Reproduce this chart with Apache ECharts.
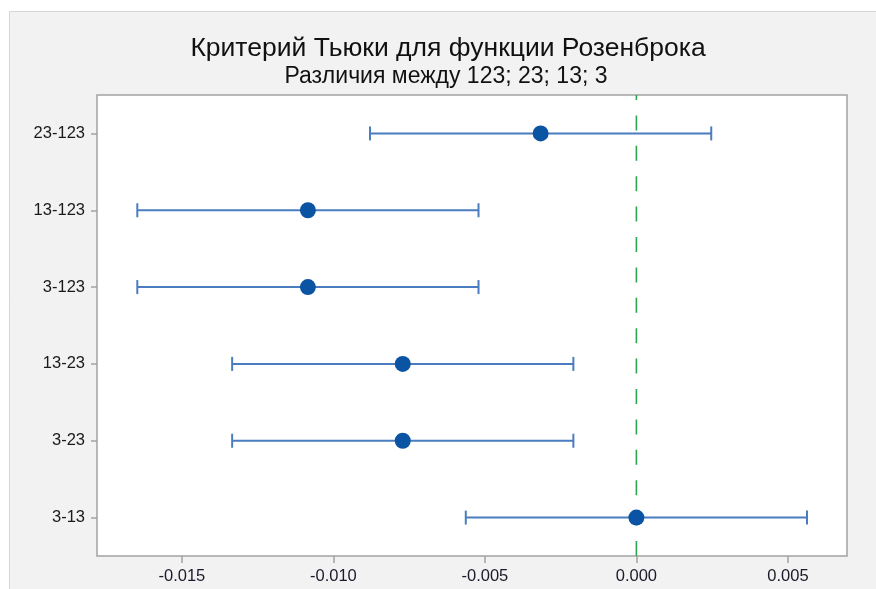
<!DOCTYPE html>
<html>
<head>
<meta charset="utf-8">
<style>
  html, body { margin: 0; padding: 0; background: #ffffff; }
  #chart { width: 876px; height: 589px; }
</style>
<script src="https://cdn.jsdelivr.net/npm/echarts@6/dist/echarts.min.js"></script>
</head>
<body>
<div id="chart"></div>
<script>
// Pairwise comparisons (Tukey), top to bottom
const categories = ['23-123', '13-123', '3-123', '13-23', '3-23', '3-13'];
// Difference of means
const diffValues = [-0.00316, -0.01084, -0.01084, -0.00771, -0.00771, 0.00000];
// Lower and upper confidence limits
const lowerValues = [-0.00879, -0.01647, -0.01647, -0.01334, -0.01334, -0.00563];
const upperValues = [0.00247, -0.00521, -0.00521, -0.00208, -0.00208, 0.00563];
// Tick labels on the difference axis
const xTicks = [-0.015, -0.010, -0.005, 0.000, 0.005];
// Reference line: no difference
const zeroLine = [0];

const titleText = 'Критерий Тьюки для функции Розенброка';
const subtitleText = 'Различия между 123; 23; 13; 3';

const FONT = '"Liberation Sans", Arial, Helvetica, sans-serif';
const BAR_COLOR = '#4a7dbf';
const DOT_COLOR = '#0b53a3';

const chart = echarts.init(document.getElementById('chart'), null, { renderer: 'canvas' });

const intervalData = categories.map((c, i) => [lowerValues[i], upperValues[i], i]);
const pointData = categories.map((c, i) => [diffValues[i], c]);

function renderInterval(params, api) {
  const lo = api.coord([api.value(0), api.value(2)]);
  const hi = api.coord([api.value(1), api.value(2)]);
  const y = lo[1];
  const cap = 7;
  const style = { stroke: BAR_COLOR, lineWidth: 2, fill: null };
  return {
    type: 'group',
    children: [
      { type: 'line', shape: { x1: lo[0], y1: y, x2: hi[0], y2: y }, style },
      { type: 'line', shape: { x1: lo[0], y1: y - cap, x2: lo[0], y2: y + cap }, style },
      { type: 'line', shape: { x1: hi[0], y1: y - cap, x2: hi[0], y2: y + cap }, style }
    ]
  };
}

// Vertical dashed line across the whole plot at the given difference value
function renderZeroLine(params, api) {
  const x = api.coord([api.value(0), 0])[0];
  const cs = params.coordSys;
  return {
    type: 'line',
    shape: { x1: x, y1: cs.y, x2: x, y2: cs.y + cs.height },
    style: {
      stroke: '#2ea44f', lineWidth: 1.6,
      lineDash: [15, 15.4], lineDashOffset: 10
    }
  };
}

chart.setOption({
  backgroundColor: '#ffffff',
  animation: false,
  graphic: [{
    type: 'rect',
    z: -10,
    shape: { x: 9.5, y: 11.5, width: 900, height: 600 },
    style: { fill: '#f2f2f2', stroke: '#d6d6d6', lineWidth: 1 }
  }],
  title: [{
    text: titleText,
    left: 443,
    top: 30,
    textAlign: 'center',
    textStyle: { fontFamily: FONT, fontSize: 26.5, fontWeight: 'normal', color: '#111111' }
  }, {
    text: subtitleText,
    left: 441,
    top: 60,
    textAlign: 'center',
    textStyle: { fontFamily: FONT, fontSize: 23, fontWeight: 'normal', color: '#111111' }
  }],
  grid: {
    left: 97, right: 29, top: 95, bottom: 33,
    show: true,
    backgroundColor: '#ffffff',
    borderColor: '#a3a3a3',
    borderWidth: 1.5
  },
  xAxis: {
    type: 'value',
    min: -0.0178,
    max: 0.00695,
    splitLine: { show: false },
    axisLine: { show: false, onZero: false },
    axisTick: {
      show: true, length: 7, customValues: xTicks,
      lineStyle: { color: '#a3a3a3', width: 1.5 }
    },
    axisLabel: {
      customValues: xTicks,
      margin: 12,
      fontFamily: FONT, fontSize: 16.5, color: '#1a1a2a',
      formatter: v => v.toFixed(3)
    }
  },
  yAxis: {
    type: 'category',
    data: categories,
    inverse: true,
    boundaryGap: true,
    axisLine: { show: false, onZero: false },
    splitLine: { show: false },
    axisTick: {
      show: true, alignWithLabel: true, length: 6, interval: 0,
      lineStyle: { color: '#a3a3a3', width: 1.5 }
    },
    axisLabel: {
      margin: 12, interval: 0,
      fontFamily: FONT, fontSize: 16.5, color: '#1a1a1a'
    }
  },
  series: [{
    type: 'custom',
    renderItem: renderZeroLine,
    data: zeroLine.map(v => [v]),
    encode: { x: 0 },
    silent: true,
    z: 1
  }, {
    type: 'custom',
    renderItem: renderInterval,
    data: intervalData,
    encode: { x: [0, 1], y: 2 },
    z: 2
  }, {
    type: 'scatter',
    data: pointData,
    symbol: 'circle',
    symbolSize: 16,
    itemStyle: { color: DOT_COLOR, opacity: 1 },
    z: 3
  }]
});
</script>
</body>
</html>
